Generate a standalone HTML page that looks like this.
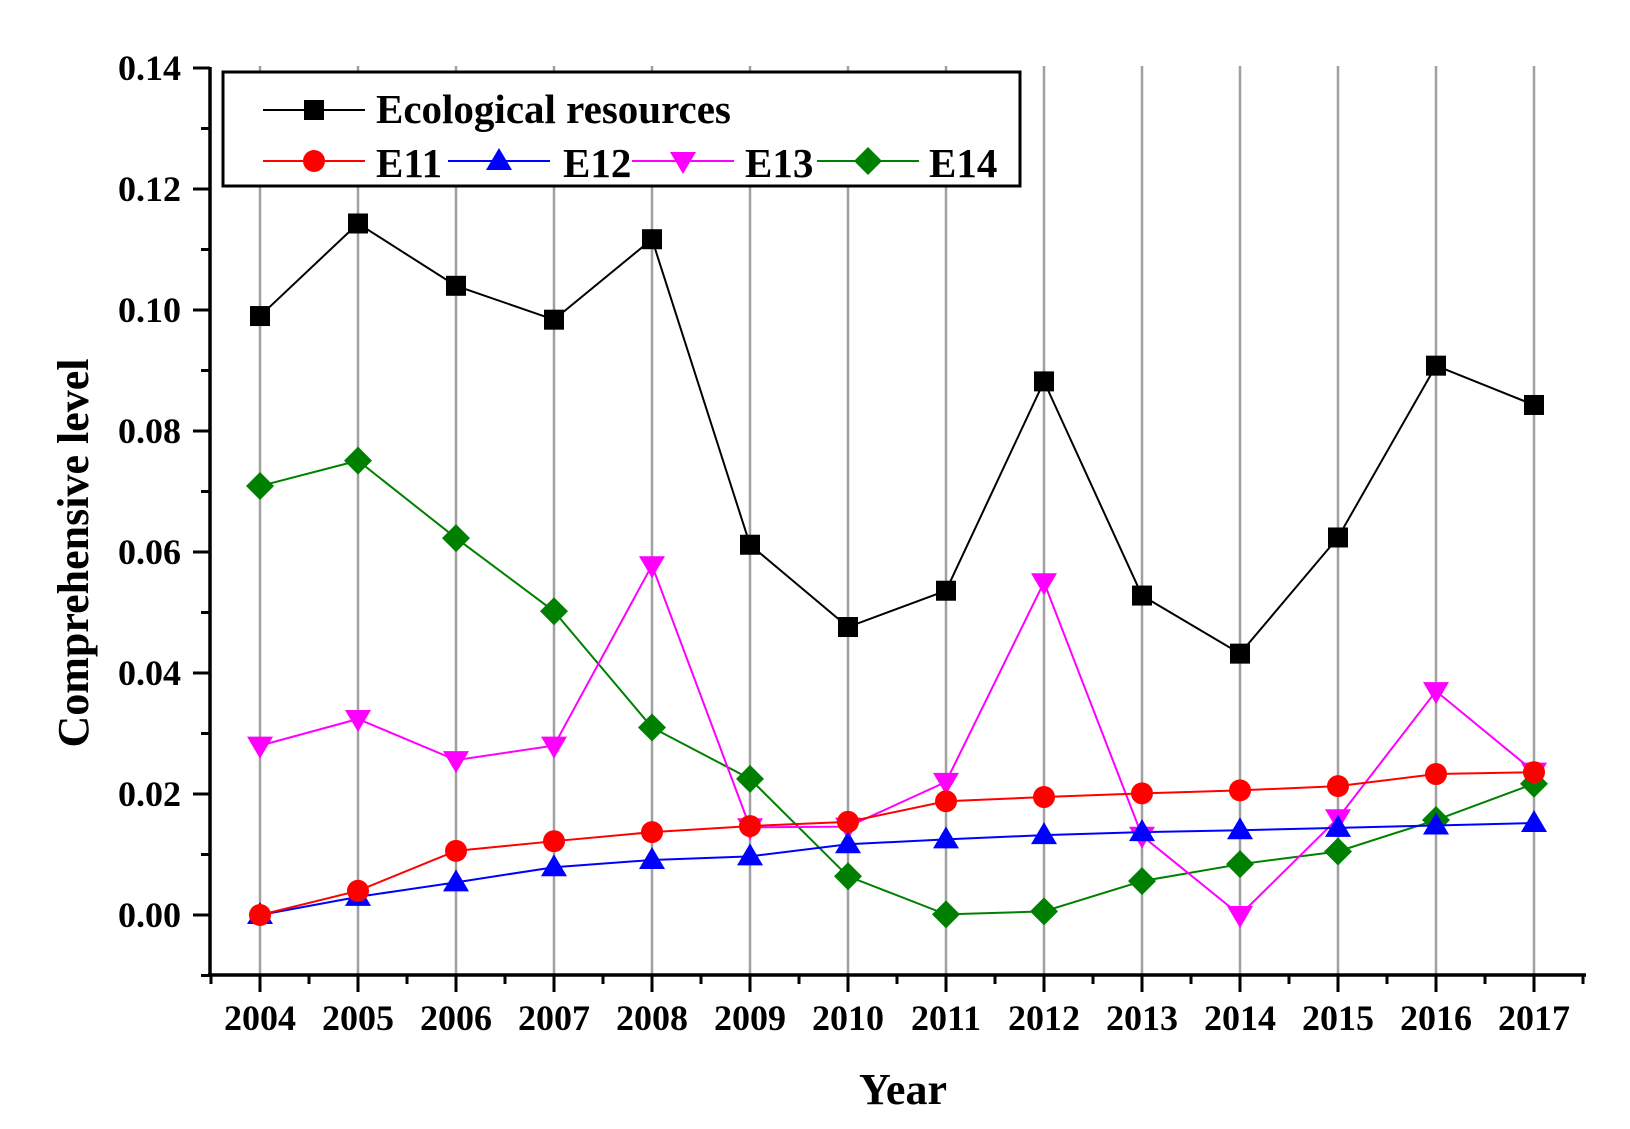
<!DOCTYPE html>
<html><head><meta charset="utf-8"><style>html,body{margin:0;padding:0;background:#fff}svg{display:block}</style></head><body>
<svg id="s" width="1630" height="1129" xmlns="http://www.w3.org/2000/svg" font-family="Liberation Serif, serif" font-weight="bold"></svg>
<script>
const S=document.getElementById('s');
const X=i=>260+98*i, Y=v=>915-v/0.02*121;
let h='';
for(let i=0;i<14;i++) h+=`<line x1="${X(i)}" y1="66" x2="${X(i)}" y2="975" stroke="#a0a0a0" stroke-width="2.5"/>`;
h+=`<line x1="210" y1="67" x2="210" y2="976" stroke="#000" stroke-width="3.5"/>`;
h+=`<line x1="208" y1="975" x2="1586" y2="975" stroke="#000" stroke-width="3.5"/>`;
for(let k=0;k<=15;k++){const v=-0.01+k*0.01;const y=Y(v);const maj=(k%2==1);
 h+=`<line x1="${maj?193:201}" y1="${y}" x2="210" y2="${y}" stroke="#000" stroke-width="3"/>`;
 if(maj) h+=`<text x="181" y="${y+12}" font-size="36" text-anchor="end">${v.toFixed(2)}</text>`;}
for(let i=-0.5;i<=13.5;i+=0.5){const x=X(i);const maj=Number.isInteger(i);
 h+=`<line x1="${x}" y1="975" x2="${x}" y2="${maj?992:984}" stroke="#000" stroke-width="3"/>`;
 if(maj) h+=`<text x="${x}" y="1030" font-size="36" text-anchor="middle">${2004+i}</text>`;}
h+=`<text x="903" y="1104" font-size="44" text-anchor="middle">Year</text>`;
h+=`<text transform="translate(88,553) rotate(-90)" font-size="44" text-anchor="middle">Comprehensive level</text>`;
const D={
eco:[0.099,0.1143,0.104,0.0984,0.1117,0.0612,0.0476,0.0536,0.0882,0.0528,0.0432,0.0624,0.0908,0.0843],
e11:[0,0.004,0.0106,0.0122,0.0137,0.0147,0.0154,0.0188,0.0195,0.0201,0.0206,0.0213,0.0233,0.0236],
e12:[0,0.003,0.0054,0.0079,0.0091,0.0097,0.0117,0.0125,0.0132,0.0137,0.014,0.0144,0.0148,0.0152],
e13:[0.028,0.0324,0.0256,0.028,0.0578,0.0145,0.0146,0.022,0.055,0.0131,0,0.016,0.037,0.0237],
e14:[0.0709,0.0751,0.0623,0.0502,0.031,0.0225,0.0064,0.0001,0.0006,0.0056,0.0084,0.0105,0.0157,0.0217]};
function mk(t,x,y,c){
 if(t=='sq')return `<rect x="${x-10}" y="${y-10}" width="20" height="20" fill="${c}"/>`;
 if(t=='ci')return `<circle cx="${x}" cy="${y}" r="11" fill="${c}"/>`;
 if(t=='up')return `<polygon points="${x},${y-13} ${x-13},${y+9} ${x+13},${y+9}" fill="${c}"/>`;
 if(t=='dn')return `<polygon points="${x},${y+13} ${x-13},${y-9} ${x+13},${y-9}" fill="${c}"/>`;
 if(t=='di')return `<polygon points="${x},${y-14} ${x+14},${y} ${x},${y+14} ${x-14},${y}" fill="${c}"/>`;}
const ser=[['eco','#000','sq'],['e11','#ff0000','ci'],['e12','#0000ff','up'],['e13','#ff00ff','dn'],['e14','#008000','di']];
for(const [k,c,t] of [ser[0],ser[4],ser[3],ser[2],ser[1]]){
 const pts=D[k].map((v,i)=>`${X(i)},${Y(v)}`).join(' ');
 h+=`<polyline points="${pts}" fill="none" stroke="${c}" stroke-width="2"/>`;
 D[k].forEach((v,i)=>h+=mk(t,X(i),Y(v),c));}
h+=`<rect x="223" y="72" width="797" height="114" fill="#fff" stroke="#000" stroke-width="3"/>`;
h+=`<line x1="263" y1="110" x2="365" y2="110" stroke="#000" stroke-width="2"/>`+mk('sq',314,110,'#000');
h+=`<text x="376" y="123" font-size="41">Ecological resources</text>`;
const L=[[263,376,'E11','#ff0000','ci'],[448,563,'E12','#0000ff','up'],[632,745,'E13','#ff00ff','dn'],[817,929,'E14','#008000','di']];
for(const [lx,tx,n,c,t] of L){
 h+=`<line x1="${lx}" y1="161" x2="${lx+102}" y2="161" stroke="${c}" stroke-width="2"/>`+mk(t,lx+51,161,c);
 h+=`<text x="${tx}" y="177" font-size="41">${n}</text>`;}
S.innerHTML=h;
</script>
</body></html>
